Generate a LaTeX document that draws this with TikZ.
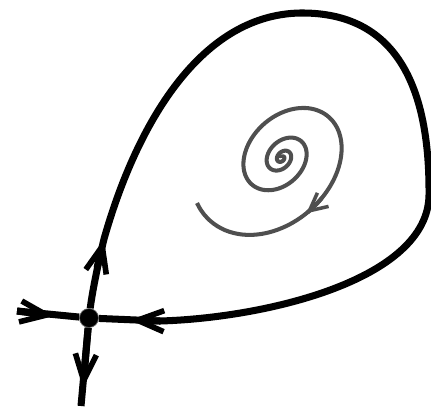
\documentclass[tikz,border=0pt]{standalone}
\usetikzlibrary{arrows.meta}
\definecolor{spiralgray}{HTML}{4F4F4F}

\begin{document}
\begin{tikzpicture}[
  x=0.02cm, y=-0.02cm,
  >={Straight Barb[length=15pt,width=12pt,line width=3.2pt]},
  orbit/.style={line width=4pt},
  swirl/.style={line width=2.3pt,spiralgray},
  dot/.style={circle,fill=black,draw=black!60,inner sep=0pt,minimum size=0.38cm},
  declare function={spr(\t)=89.6*exp(0.002269*(\t-202.6))-3;}
]
  \useasboundingbox (0,0) rectangle (431,413);
  \node[dot] (saddle) at (89,318) {};
  \coordinate (west) at (17,311);
  \coordinate (wtip) at (54,316);
  \coordinate (south) at (81,406);
  \coordinate (stip) at (83,388);
  \coordinate (utail) at (97,268);
  \coordinate (utip) at (104,239);
  \coordinate (top) at (300,13);
  \coordinate (east) at (429,195);
  \coordinate (back) at (160,321);
  \coordinate (btip) at (130,320);

  % stable and unstable directions
  \draw[orbit] (west) -- (saddle) -- (south);
  \draw[orbit,->] (west) -- (wtip);
  \draw[orbit,->] (saddle) -- (stip);

  % homoclinic loop
  \draw[orbit] (saddle) .. controls (92,294) and (97,268) .. (utip)
    .. controls (134,133) and (196,15) .. (top)
    .. controls (385,12) and (430,70) .. (east)
    .. controls (428,280) and (265,318) .. (back) -- (saddle);
  \draw[orbit,->] (utail) -- (utip);
  \draw[orbit,->] (back) -- (btip);

  % focus inside the loop
  \draw[swirl]
    plot[domain=-1200:202.6,samples=400,smooth]
    ({282+spr(\x)*(0.813*cos(\x)+0.601*sin(\x))},{158+spr(\x)*(-0.813*cos(\x)+0.601*sin(\x))});
  \draw[swirl,-{Straight Barb[length=10pt,width=10pt,line width=2pt]}]
    plot[domain=90:106,samples=10,smooth]
    ({282+spr(\x)*(0.813*cos(\x)+0.601*sin(\x))},{158+spr(\x)*(-0.813*cos(\x)+0.601*sin(\x))});
\end{tikzpicture}
\end{document}
